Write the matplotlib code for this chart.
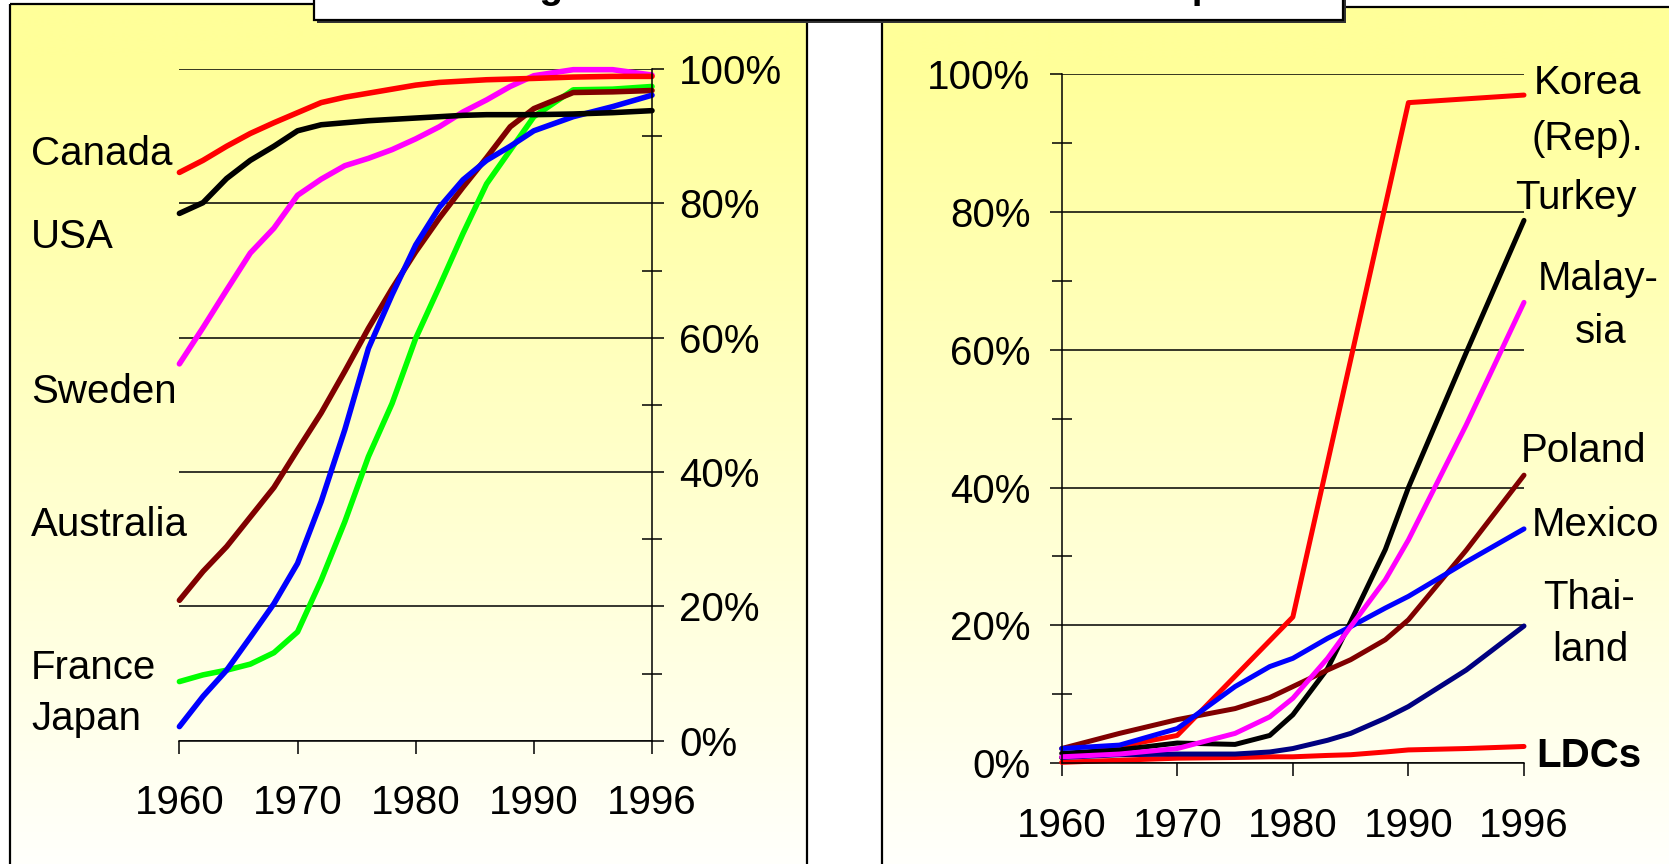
"""
Household telephone penetration, 1960-1996: developed vs. emerging economies.
"""

import numpy as np
import matplotlib
matplotlib.use("Agg")
import matplotlib.pyplot as plt
from matplotlib.patches import Rectangle

plt.rcParams["font.family"] = ["Liberation Sans", "DejaVu Sans"]

# --- data (percent of households) -------------------------------------------
tick_years = [1960, 1970, 1980, 1990, 1996]
pct_ticks = [0, 20, 40, 60, 80, 100]

dev_years = [1960, 1962, 1964, 1966, 1968, 1970, 1972, 1974, 1976, 1978,
             1980, 1982, 1984, 1986, 1988, 1990, 1992, 1994, 1996]
canada = [84.6, 86.4, 88.5, 90.4, 92.0, 93.5, 95.0, 95.8, 96.4, 97.0,
          97.6, 98.0, 98.2, 98.4, 98.5, 98.6, 98.8, 98.9, 98.9]
usa = [78.5, 80.1, 83.7, 86.4, 88.5, 90.8, 91.7, 92.0, 92.3, 92.5,
       92.7, 92.9, 93.1, 93.2, 93.2, 93.2, 93.3, 93.5, 93.8]
sweden = [56.1, 61.5, 67.1, 72.6, 76.3, 81.2, 83.6, 85.6, 86.7, 88.0,
          89.6, 91.4, 93.6, 95.4, 97.4, 99.0, 99.9, 99.9, 99.1]
australia = [20.9, 25.2, 28.9, 33.3, 37.7, 43.3, 48.8, 55.0, 61.4, 67.3,
             72.8, 77.8, 82.4, 86.8, 91.4, 94.1, 96.5, 96.6, 96.8]
france = [8.8, 9.8, 10.5, 11.4, 13.1, 16.2, 23.9, 32.6, 42.3, 50.2,
          59.9, 67.6, 75.5, 82.9, 87.9, 92.9, 96.9, 97.0, 97.4]
japan = [2.1, 6.6, 10.5, 15.4, 20.4, 26.4, 35.6, 46.3, 58.4, 66.4,
         73.8, 79.4, 83.5, 86.4, 88.5, 90.8, 92.9, 94.4, 96.1]

emg_years = [1960, 1965, 1970, 1975, 1978, 1980, 1983, 1985, 1988, 1990, 1993, 1996]
turkey = [1.4, 1.9, 2.9, 2.7, 4.0, 7.0, 13.7, 20.5, 31.0, 40.0, 59.6, 78.8]
malaysia = [0.9, 1.3, 2.1, 4.3, 6.7, 9.4, 15.2, 19.8, 26.6, 32.4, 49.1, 66.9]
poland = [2.1, 4.3, 6.3, 7.9, 9.5, 11.1, 13.5, 15.0, 17.9, 20.8, 30.9, 41.8]
mexico = [2.1, 2.6, 5.0, 11.1, 14.0, 15.2, 18.1, 19.8, 22.5, 24.2, 29.2, 34.0]
thailand = [0.8, 1.2, 1.3, 1.3, 1.6, 2.1, 3.3, 4.3, 6.5, 8.2, 13.5, 19.9]
ldcs = [0.1, 0.4, 0.7, 0.8, 0.9, 0.9, 1.1, 1.2, 1.6, 1.9, 2.1, 2.4]

korea_years = [1960, 1965, 1970, 1980, 1990, 1996]
korea = [0.8, 2.4, 4.0, 21.2, 95.9, 97.0]

# --- figure ------------------------------------------------------------------
W, H = 1669, 864
FS = 29
fig = plt.figure(figsize=(W / 100, H / 100), dpi=100)

# background layer in pixel coordinates (panels, title box, labels)
bg = fig.add_axes([0, 0, 1, 1], zorder=-10)


def to_pos(years):
    """Category axis: ticks equally spaced although the last step is 6 years."""
    return np.interp(years, tick_years, np.arange(len(tick_years)))


def draw_panel(x0, x1, y0):
    """Yellow-to-white vertical gradient panel with a black frame."""
    ys = np.linspace(y0, H, 300)
    t = np.clip((ys - 60) / 820, 0, 1)[:, None, None]
    yellow = np.array([1.0, 1.0, 0.6])
    img = yellow * (1 - t) + np.ones(3) * t
    bg.imshow(img, extent=[x0, x1, H + 10, y0], aspect="auto",
              interpolation="bilinear", zorder=0)
    bg.add_patch(Rectangle((x0, y0), x1 - x0, H + 20 - y0, fill=False,
                           ec="black", lw=1.6, zorder=1))


draw_panel(9.6, 807, 4)
draw_panel(882, W + 20, 7)

# title box, mostly cut off by the top edge
bg.add_patch(Rectangle((317, -30), 1029, 53, fc="#333333", ec="none", zorder=2))
bg.add_patch(Rectangle((314, -30), 1029, 50, fc="white", ec="black", lw=1.6, zorder=3))
bg.text(802, -1.5, "Reaching the home: the latecomers catch up", ha="center",
        va="baseline", fontsize=28, fontweight="bold", zorder=4)

# series labels
left_labels = [("Canada", 165), ("USA", 248), ("Sweden", 403),
               ("Australia", 536), ("France", 679), ("Japan", 730)]
for txt, yb in left_labels:
    bg.text(31, yb, txt, ha="left", va="baseline", fontsize=FS)

right_labels = [("Korea", 1587, 94), ("(Rep).", 1587, 150), ("Turkey", 1576, 209),
                ("Malay-", 1598, 290), ("sia", 1601, 343), ("Poland", 1584, 462),
                ("Mexico", 1595, 536), ("Thai-", 1589, 609), ("land", 1590, 661)]
for txt, xc, yb in right_labels:
    bg.text(xc, yb, txt, ha="center", va="baseline", fontsize=FS)
bg.text(1589, 767, "LDCs", ha="center", va="baseline", fontsize=FS, fontweight="bold")

bg.set_xlim(0, W)
bg.set_ylim(H, 0)
bg.axis("off")


def style_axis(ax, side, xpad, ypad):
    """Excel-like axis: one visible value axis, black gridlines, crossing minor ticks."""
    if side == "right":
        ax.yaxis.tick_right()
    ax.set_xlim(0, 4)
    ax.set_ylim(0, 100)
    ax.set_facecolor("none")
    for s in ax.spines.values():
        s.set_linewidth(1.1)
    ax.spines["top"].set_visible(False)
    ax.spines["left" if side == "right" else "right"].set_visible(False)

    ax.set_xticks(np.arange(len(tick_years)))
    ax.set_xticklabels([str(y) for y in tick_years])
    ax.set_yticks(pct_ticks)
    ax.set_yticklabels([f"{v}%" for v in pct_ticks])
    ax.set_yticks([10, 30, 50, 70, 90], minor=True)
    ax.grid(axis="y", which="major", color="black", lw=1.1)

    ax.tick_params(axis="x", direction="out", length=9, width=1.1,
                   labelsize=FS, pad=xpad)
    ax.tick_params(axis="y", which="major", direction="out", length=8.6,
                   width=1.1, labelsize=FS, pad=ypad)
    ax.tick_params(axis="y", which="minor", direction="inout", length=15, width=1.1)


# developed countries (left)
ax1 = fig.add_axes([179.4 / W, (H - 740.7) / H, (652 - 179.4) / W, 671.7 / H])
style_axis(ax1, "right", xpad=22, ypad=11)
x_dev = to_pos(dev_years)
for vals, col in [(sweden, "#FF00FF"), (france, "#00FF00"), (australia, "#800000"),
                  (canada, "#FF0000"), (japan, "#0000FF"), (usa, "#000000")]:
    ax1.plot(x_dev, vals, color=col, lw=4.0, clip_on=False, solid_capstyle="round")

# emerging economies (right)
ax2 = fig.add_axes([1061.7 / W, (H - 763) / H, (1524 - 1061.7) / W, 688.6 / H])
style_axis(ax2, "left", xpad=23, ypad=14)
x_emg = to_pos(emg_years)
ax2.plot(to_pos(korea_years), korea, color="#FF0000", lw=3.6, clip_on=False,
         solid_capstyle="round")
for vals, col in [(ldcs, "#FF0000"), (turkey, "#000000"), (thailand, "#000080"),
                  (poland, "#800000"), (mexico, "#0000FF"), (malaysia, "#FF00FF")]:
    ax2.plot(x_emg, vals, color=col, lw=3.6, clip_on=False, solid_capstyle="round")

fig.savefig("out.png", dpi=100)
